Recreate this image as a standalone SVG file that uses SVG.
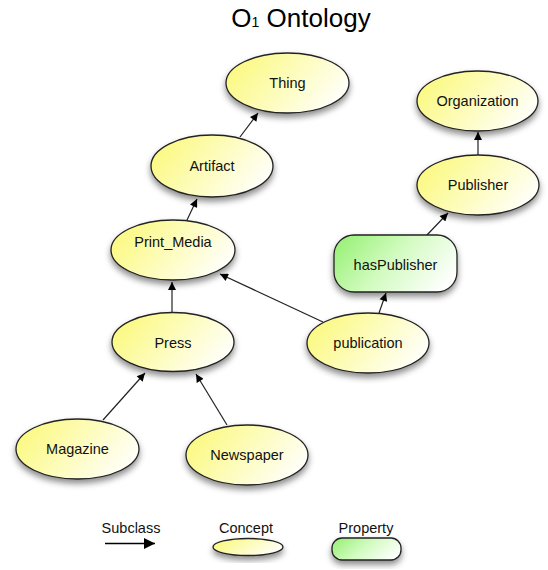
<svg xmlns="http://www.w3.org/2000/svg" width="548" height="570" viewBox="0 0 548 570">
<defs>
<linearGradient id="gy" x1="0" y1="0.3" x2="1" y2="0.7">
<stop offset="0" stop-color="#fbf97f"/>
<stop offset="0.45" stop-color="#fdfcb8"/>
<stop offset="1" stop-color="#ffffff"/>
</linearGradient>
<linearGradient id="gg" x1="0" y1="0.3" x2="1" y2="0.7">
<stop offset="0" stop-color="#9ef27e"/>
<stop offset="0.45" stop-color="#d2fbc0"/>
<stop offset="1" stop-color="#ffffff"/>
</linearGradient>
<filter id="sh" x="-20%" y="-20%" width="140%" height="160%">
<feDropShadow dx="0" dy="4" stdDeviation="3" flood-color="#000" flood-opacity="0.45"/>
</filter>
<marker id="ah" viewBox="0 0 10 10" refX="10" refY="5" markerWidth="10" markerHeight="8" markerUnits="userSpaceOnUse" orient="auto">
<path d="M0,0 L10,5 L0,10 z" fill="#000"/>
</marker>
<marker id="ahL" viewBox="0 0 10 10" refX="10" refY="5" markerWidth="14" markerHeight="11" markerUnits="userSpaceOnUse" orient="auto">
<path d="M0,0 L10,5 L0,10 z" fill="#000"/>
</marker>
</defs>
<style>
.c{fill:url(#gy);stroke:#222;stroke-width:1.3;filter:url(#sh)}
.p{fill:url(#gg);stroke:#222;stroke-width:1.3;filter:url(#sh)}
.t{font-family:"Liberation Sans",Arial,sans-serif;font-size:14.5px;fill:#111;text-anchor:middle}
.e{stroke:#222;stroke-width:1.2;fill:none;marker-end:url(#ah)}
</style>
<rect width="548" height="570" fill="#fff"/>
<text x="301" y="27" font-family="'Liberation Sans',Arial,sans-serif" font-size="26" text-anchor="middle" fill="#000">O<tspan font-size="14">1</tspan> Ontology</text>

<g id="connectors">
<line class="e" x1="240" y1="137" x2="258" y2="113"/>
<line class="e" x1="187" y1="220" x2="197" y2="199"/>
<line class="e" x1="172" y1="313" x2="172" y2="282"/>
<line class="e" x1="323" y1="322" x2="220" y2="274"/>
<line class="e" x1="379" y1="313" x2="386" y2="293"/>
<line class="e" x1="426" y1="236" x2="448" y2="213"/>
<line class="e" x1="478" y1="155" x2="478" y2="132"/>
<line class="e" x1="103" y1="420" x2="145" y2="373"/>
<line class="e" x1="227" y1="425" x2="196" y2="374"/>
</g>

<g id="thing"><ellipse class="c" cx="287.5" cy="83" rx="61.5" ry="30"/><text class="t" x="287.5" y="88">Thing</text></g>
<g id="artifact"><ellipse class="c" cx="212" cy="166" rx="61" ry="31"/><text class="t" x="212" y="171">Artifact</text></g>
<g id="print_media"><ellipse class="c" cx="173" cy="250" rx="62" ry="30"/><text class="t" x="173" y="247">Print_Media</text></g>
<g id="press"><ellipse class="c" cx="173" cy="342" rx="61" ry="29.5"/><text class="t" x="173" y="348">Press</text></g>
<g id="publication"><ellipse class="c" cx="368" cy="343" rx="61" ry="30"/><text class="t" x="368" y="348">publication</text></g>
<g id="magazine"><ellipse class="c" cx="77.5" cy="449" rx="61.5" ry="30"/><text class="t" x="77.5" y="454">Magazine</text></g>
<g id="newspaper"><ellipse class="c" cx="247" cy="455" rx="61" ry="30"/><text class="t" x="247" y="460">Newspaper</text></g>
<g id="organization"><ellipse class="c" cx="477.5" cy="101" rx="60.5" ry="30"/><text class="t" x="477.5" y="106">Organization</text></g>
<g id="publisher"><ellipse class="c" cx="478" cy="185" rx="61" ry="30"/><text class="t" x="478" y="190">Publisher</text></g>
<g id="hasPublisher"><rect class="p" x="334" y="235" width="123" height="57" rx="20" ry="20"/><text class="t" x="395.5" y="270">hasPublisher</text></g>

<g id="legend">
<text class="t" x="131" y="533">Subclass</text>
<line x1="105" y1="543.5" x2="155" y2="543.5" stroke="#000" stroke-width="1.6" marker-end="url(#ahL)"/>
<text class="t" x="246" y="533">Concept</text>
<ellipse class="c" cx="248" cy="547" rx="35" ry="8.5"/>
<text class="t" x="366" y="533">Property</text>
<rect class="p" x="332" y="538" width="69" height="22" rx="10" ry="10"/>
</g>
</svg>
